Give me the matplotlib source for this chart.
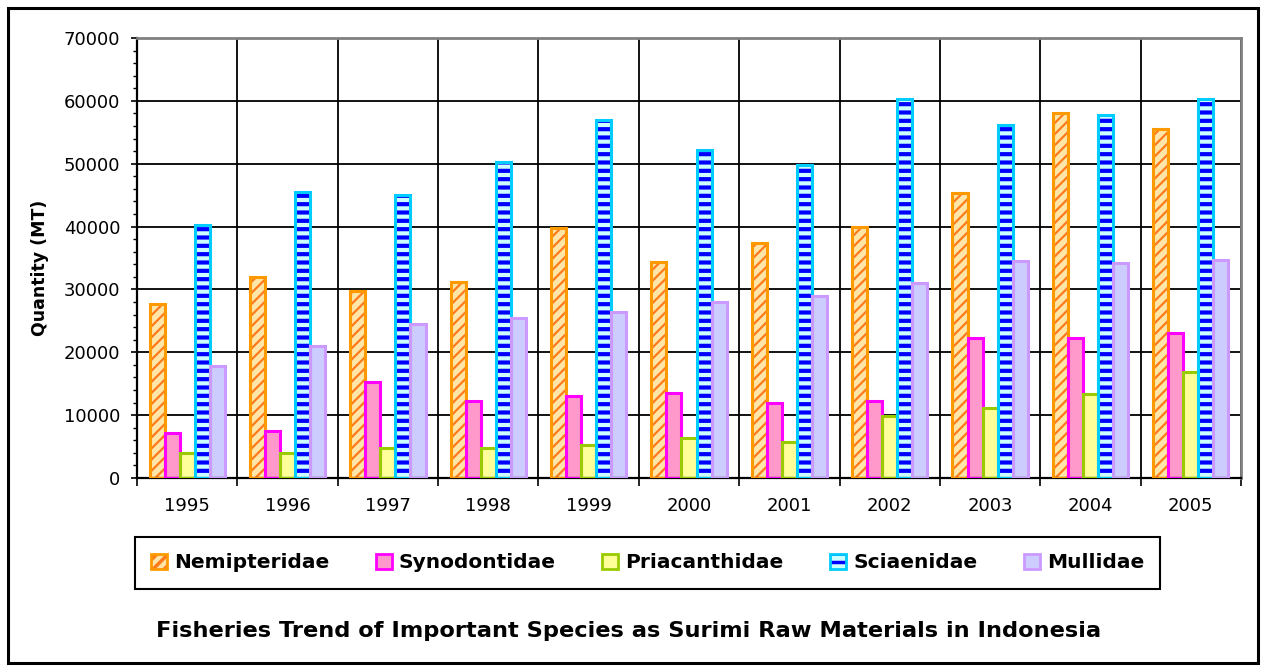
import matplotlib
matplotlib.use('Agg')
import matplotlib.pyplot as plt
import matplotlib.ticker as ticker
from matplotlib.patches import Patch, Rectangle
import numpy as np

plt.rcParams['font.family'] = ['DejaVu Sans']
plt.rcParams['hatch.linewidth'] = 2.5

# Data (Quantity in MT)
years = ['1995', '1996', '1997', '1998', '1999', '2000',
         '2001', '2002', '2003', '2004', '2005']
nemipteridae = [27700, 31900, 29800, 31200, 39700, 34400, 37400, 40000, 45300, 58000, 55600]
synodontidae = [7200, 7500, 15200, 12300, 13000, 13600, 12000, 12200, 22300, 22300, 23000]
priacanthidae = [4000, 4000, 4700, 4700, 5300, 6300, 5700, 9900, 11100, 13400, 16900]
sciaenidae = [40200, 45500, 45000, 50300, 57000, 52200, 49800, 60300, 56100, 57700, 60300]
mullidae = [17800, 21000, 24500, 25500, 26400, 28000, 29000, 31000, 34500, 34200, 34700]

species = ['Nemipteridae', 'Synodontidae', 'Priacanthidae', 'Sciaenidae', 'Mullidae']
series = [nemipteridae, synodontidae, priacanthidae, sciaenidae, mullidae]

# (face, hatch colour, edge, hatch, hatch width)
styles = [
    ('#FFE6A8', '#FF7A1A', '#FF9900', '///', 1.6),
    ('#FF99CC', '#FF99CC', '#FF00FF', '', 1.0),
    ('#FFFF99', '#FFFF99', '#99CC00', '', 1.0),
    ('#CCFFFF', '#0000FF', '#00CCFF', '--', 3.0),
    ('#CCCCFF', '#CCCCFF', '#CC99FF', '', 1.0),
]

W, H = 1261, 670
fig = plt.figure(figsize=(W / 100, H / 100), dpi=100)
ax = fig.add_axes([137 / W, (H - 478) / H, (1241 - 137) / W, (478 - 38) / H])

x = np.arange(len(years))
bw = 0.15
handles = []
for i, (vals, (face, hcol, edge, hatch, hlw)) in enumerate(zip(series, styles)):
    pos = x + (i - 2) * bw
    with plt.rc_context({'hatch.linewidth': hlw}):
        fill = ax.bar(pos, vals, bw, color=face, edgecolor=hcol, hatch=hatch,
                      linewidth=0, zorder=2)
        hp = Patch(facecolor=face, edgecolor=hcol, hatch=hatch, linewidth=0)
    for p in list(fill) + [hp]:
        if hasattr(p, 'set_hatch_linewidth'):
            p.set_hatch_linewidth(hlw)
    ax.bar(pos, vals, bw, color='none', edgecolor=edge, linewidth=2.2, zorder=3)
    handles.append((hp, Patch(facecolor='none', edgecolor=edge, linewidth=2.0)))

# axes and grid
ax.set_xlim(-0.5, len(years) - 0.5)
ax.set_ylim(0, 70000)
ax.xaxis.set_major_locator(ticker.FixedLocator(np.arange(-0.5, len(years))))
ax.xaxis.set_major_formatter(ticker.NullFormatter())
ax.xaxis.set_minor_locator(ticker.FixedLocator(x))
ax.xaxis.set_minor_formatter(ticker.FixedFormatter(years))
ax.tick_params(axis='x', which='major', direction='out', length=6, width=1.2)
ax.tick_params(axis='x', which='minor', length=0, pad=14, labelsize=13)
ax.yaxis.set_major_locator(ticker.MultipleLocator(10000))
ax.yaxis.set_minor_locator(ticker.MultipleLocator(2000))
ax.tick_params(axis='y', which='major', direction='out', length=4, width=1.2,
               pad=8, labelsize=13)
ax.tick_params(axis='y', which='minor', direction='out', length=3, width=1.0)
ax.grid(True, which='major', color='black', linewidth=1.3)
ax.set_axisbelow(True)
for side in ['left', 'bottom']:
    ax.spines[side].set_color('black')
    ax.spines[side].set_linewidth(1.6)
for side in ['top', 'right']:
    ax.spines[side].set_color('#808080')
    ax.spines[side].set_linewidth(2)

fig.text(40 / W, 1 - 268 / H, 'Quantity (MT)', rotation=90, ha='center',
         va='center', fontsize=12.5, fontweight='bold')

leg = fig.legend(handles, species, loc='center', ncol=5,
                 bbox_to_anchor=(647.5 / W, 1 - 563 / H),
                 prop={'weight': 'bold', 'size': 14.5},
                 handlelength=0.8, handleheight=0.8, handletextpad=0.35,
                 columnspacing=2.3, frameon=True, fancybox=False,
                 borderpad=0.8, framealpha=1)
leg.get_frame().set_edgecolor('black')
leg.get_frame().set_linewidth(1.5)

fig.text(629 / W, 1 - 631 / H,
         'Fisheries Trend of Important Species as Surimi Raw Materials in Indonesia',
         ha='center', va='center', fontsize=16.2, fontweight='bold')

# outer chart border
fig.patches.append(Rectangle((8 / W, 7 / H), (1258 - 8) / W, (663 - 8) / H,
                             transform=fig.transFigure, fill=False,
                             edgecolor='black', linewidth=2.2))

fig.savefig('out.png', dpi=100)
